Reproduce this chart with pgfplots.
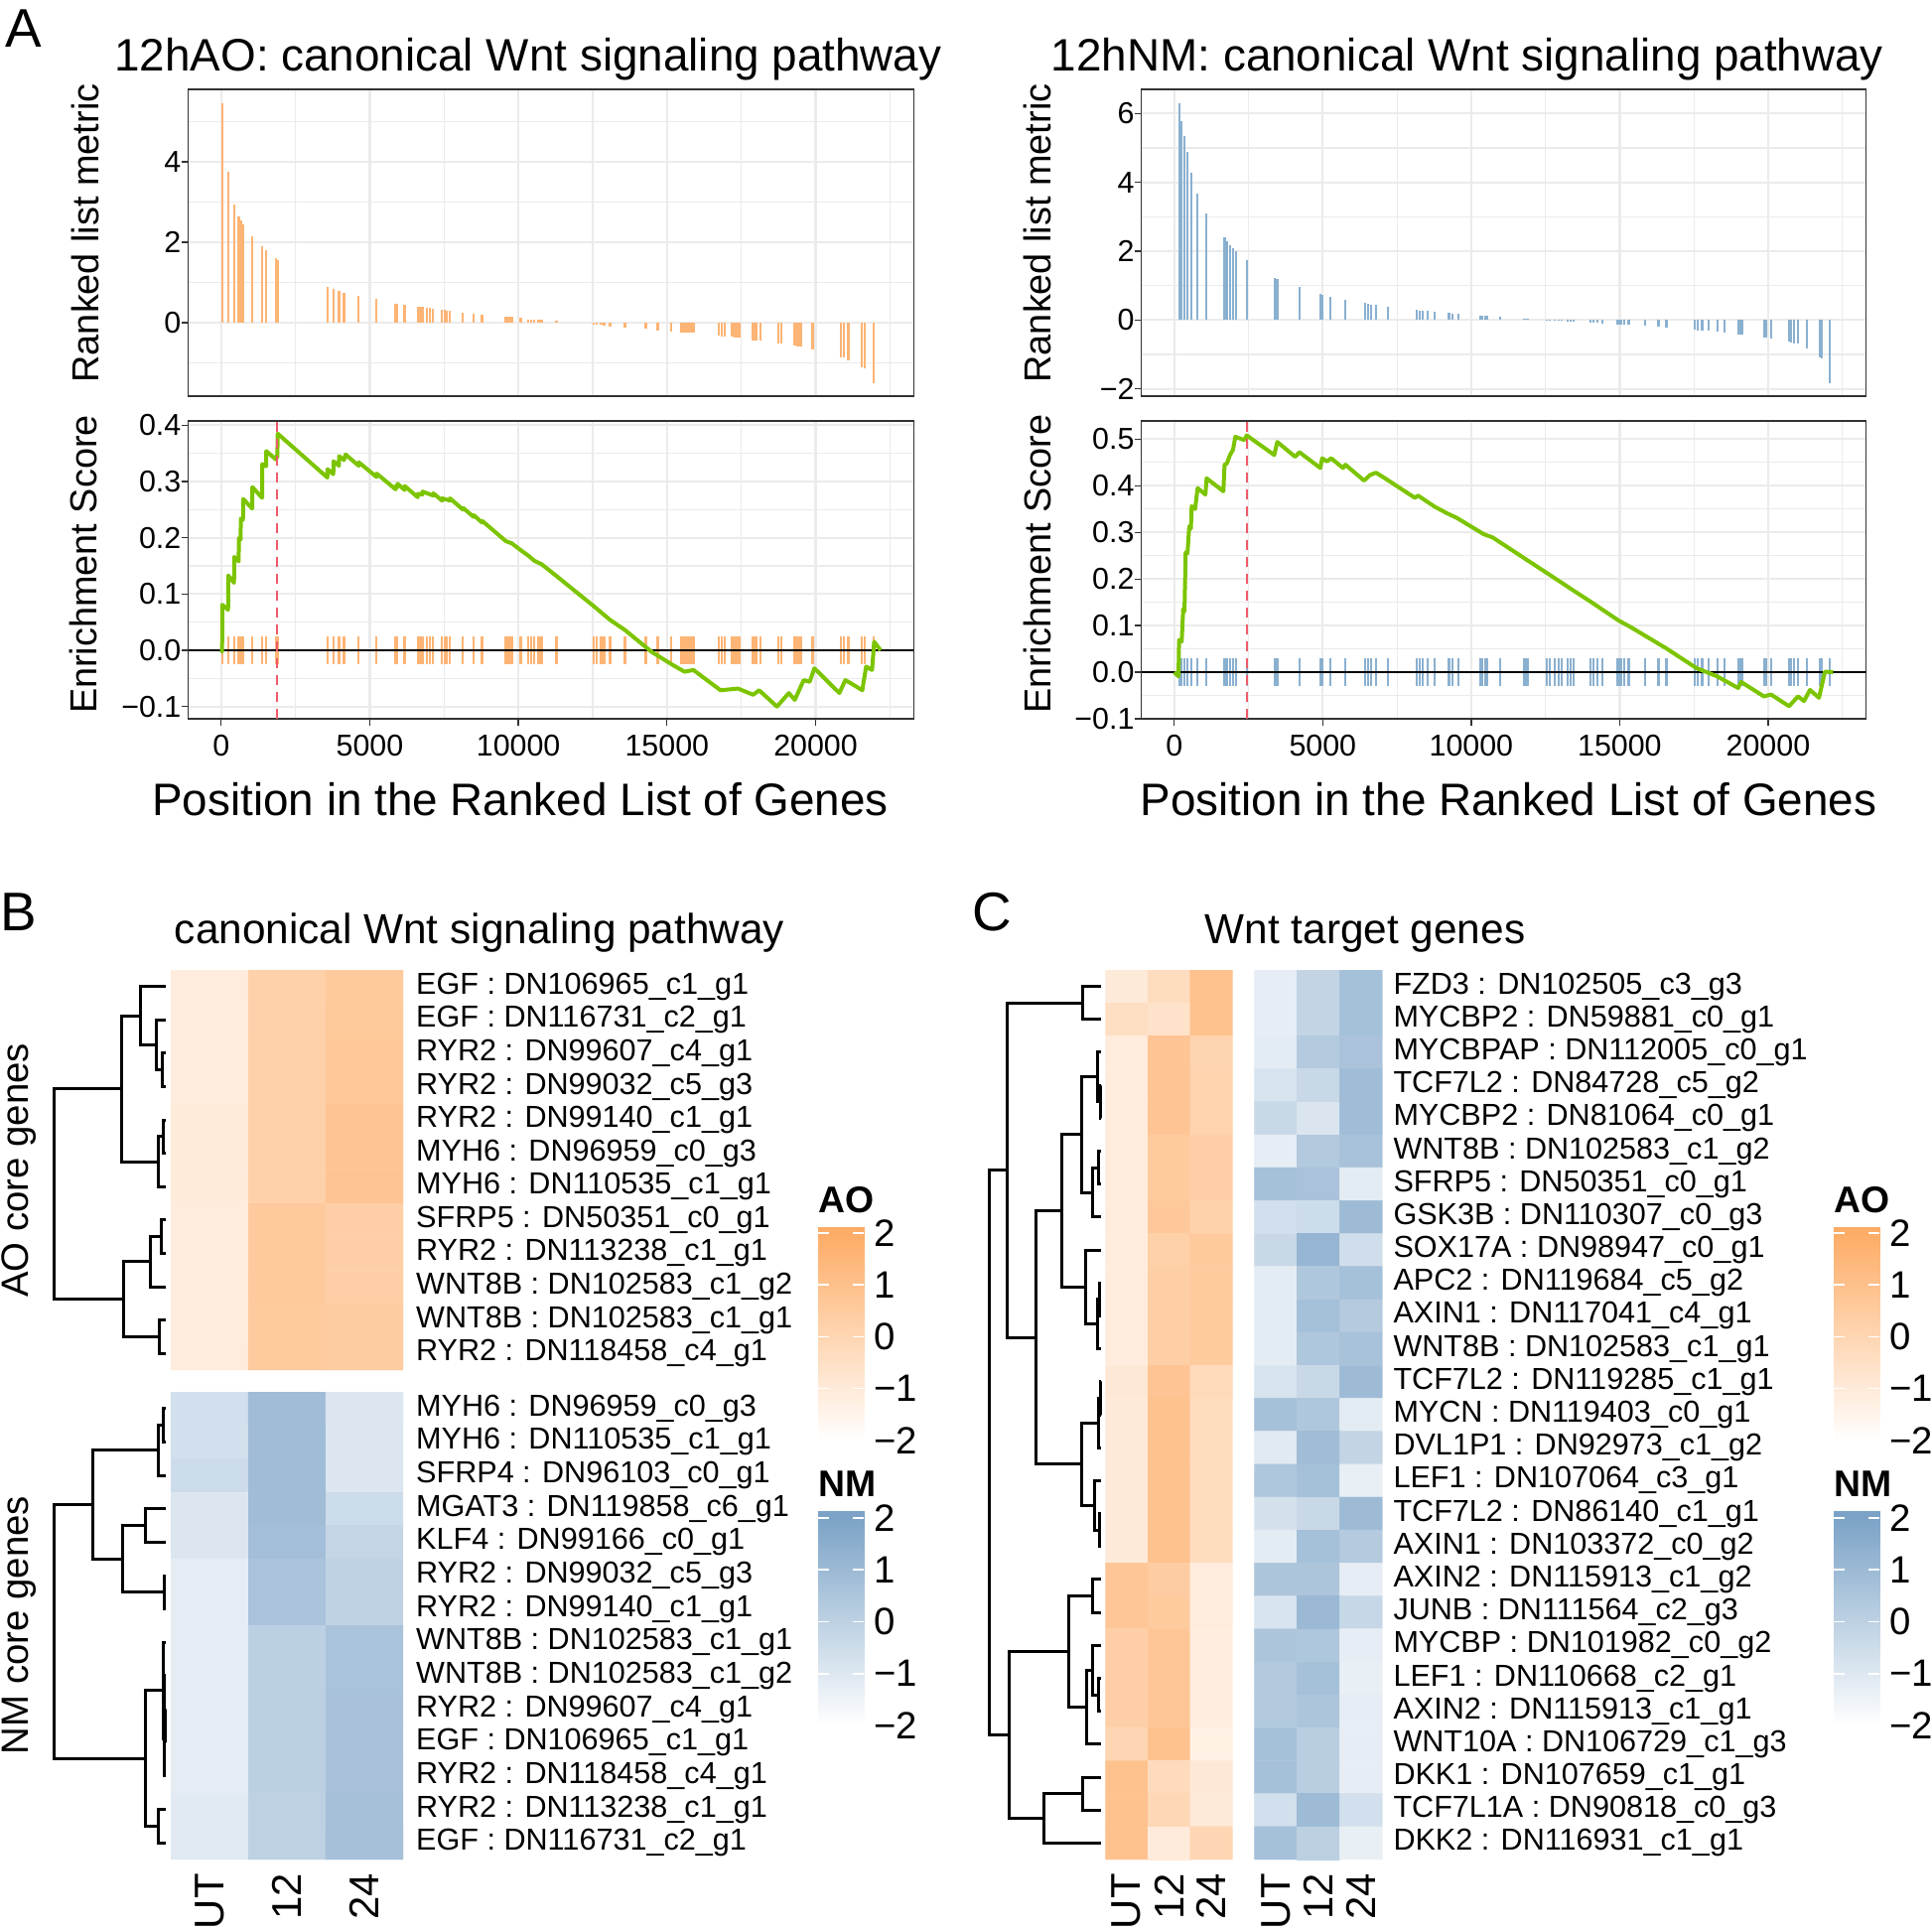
\documentclass[border=0pt]{standalone}
\usepackage{fontspec}
\setmainfont{Liberation Sans}
\usepackage{pgfplots}
\usepackage{pgfplotstable}
\pgfplotsset{compat=1.18}

\definecolor{aobar}{RGB}{253,180,116}
\definecolor{nmbar}{RGB}{138,176,208}
\definecolor{esgreen}{RGB}{124,196,0}
\definecolor{dashred}{RGB}{238,90,105}
\definecolor{gridc}{RGB}{235,235,235}
\definecolor{framec}{RGB}{51,51,51}

\newcommand{\fA}{\fontsize{46}{50}\selectfont}
\newcommand{\fL}{\fontsize{38}{42}\selectfont}
\newcommand{\fT}{\fontsize{30.5}{34}\selectfont}
\newcommand{\fH}{\fontsize{42.5}{46}\selectfont}
\newcommand{\fR}{\fontsize{30.7}{34}\selectfont}
\newcommand{\fC}{\fontsize{42}{46}\selectfont}
\newcommand{\fP}{\fontsize{55}{60}\selectfont}
\newcommand{\fG}{\fontsize{38.5}{42}\selectfont}
\newcommand{\fK}{\fontsize{37.5}{42}\selectfont\bfseries}
\newcommand{\fKt}{\fontsize{38.5}{42}\selectfont}

\tikzset{txt/.style={inner sep=0pt}}
\pgfplotsset{
  colormap={aomap}{rgb255(0cm)=(255,255,255); rgb255(1cm)=(253,172,102)},
  colormap={nmmap}{rgb255(0cm)=(255,255,255); rgb255(1cm)=(124,163,199)},
  gsea/.style={scale only axis, anchor=north west, xmin=-1110, xmax=23300,
    axis line style={framec, line width=1.3bp},
    grid=both, major grid style={gridc, line width=2.2bp}, minor grid style={gridc, line width=1.1bp},
    xtick={0,5000,10000,15000,20000}, minor xtick={2500,7500,12500,17500,22500},
    tick align=outside, tick pos=left, major tick length=7bp, minor tick length=0pt,
    tick style={framec, line width=1.3bp},
    tick label style={font=\fT, inner sep=0pt}, xticklabel shift=9bp,
    scaled ticks=false},
  hm/.style={scale only axis, anchor=north west, xmin=-0.5, xmax=2.5, y dir=reverse,
    axis line style={draw=none}, tick style={draw=none}, major tick length=0pt,
    xtick=\empty, ytick=\empty, yticklabel pos=right,
    yticklabel style={font=\fR, anchor=west, inner sep=0pt}, yticklabel shift=13bp,
    xticklabel style={font=\fC, rotate=90, anchor=east, inner sep=0pt}, xticklabel shift=14bp,
    point meta min=-2, point meta max=2},
  dg/.style={scale only axis, anchor=north west, hide axis, x dir=reverse, y dir=reverse, xmin=0, clip=false},
  dend/.style={black, line width=3bp, forget plot},
  lg/.style={scale only axis, anchor=north west, width=46bp, xmin=0, xmax=1, ymin=-2,
    axis line style={draw=none}, tick style={draw=none}, major tick length=0pt,
    xtick=\empty, ytick={-2,-1,0,1,2}, yticklabels={−2,−1,0,1,2}, yticklabel pos=right,
    yticklabel style={font=\fKt, anchor=west, inner sep=0pt}, yticklabel shift=10bp,
    point meta min=-2, point meta max=2}
}

% ---------------- data: panel A, 12hAO ----------------
\pgfplotstableread{
x m
33 5.46
234 3.74
434 2.93
591 2.63
658 2.53
735 2.43
1046 2.15
1380 1.89
1513 1.79
1847 1.59
1904 1.55
3574 0.88
3774 0.83
3964 0.79
4131 0.74
4629 0.66
5230 0.58
5872 0.47
5932 0.46
6172 0.45
6613 0.40
6693 0.39
6774 0.39
6934 0.37
7014 0.36
7134 0.35
7435 0.32
7515 0.31
7575 0.30
7695 0.30
8136 0.24
8497 0.22
8778 0.19
9579 0.14
9679 0.14
9780 0.14
10080 0.11
10341 0.08
10421 0.08
10541 0.07
10681 0.07
10782 0.07
11283 0.04
12545 -0.05
12645 -0.05
12786 -0.06
12886 -0.07
13086 -0.10
13587 -0.12
14289 -0.16
14689 -0.19
15150 -0.22
15491 -0.25
15591 -0.25
15691 -0.25
15792 -0.26
15892 -0.26
16753 -0.33
16854 -0.34
16954 -0.35
17194 -0.36
17295 -0.37
17395 -0.37
17455 -0.37
17896 -0.44
17996 -0.45
18156 -0.45
18757 -0.52
18858 -0.53
19299 -0.58
19399 -0.59
19499 -0.60
19900 -0.66
20842 -0.86
20942 -0.87
21102 -0.93
21543 -1.11
21643 -1.15
21944 -1.50
}\hitsL

\pgfplotstableread{
x es
0 0.000
33 -0.002
38 0.081
234 0.072
240 0.133
434 0.120
440 0.166
591 0.158
597 0.199
658 0.197
662 0.234
735 0.232
740 0.269
1046 0.252
1050 0.290
1380 0.271
1385 0.331
1513 0.327
1518 0.354
1847 0.339
1852 0.345
1890 0.343
1904 0.385
3574 0.307
3579 0.322
3774 0.313
3779 0.336
3964 0.328
3969 0.345
4131 0.338
4186 0.348
4629 0.328
4634 0.334
5230 0.308
5235 0.314
5872 0.286
5877 0.292
5932 0.290
5937 0.296
6172 0.285
6177 0.292
6613 0.272
6618 0.278
6774 0.277
6779 0.282
7134 0.275
7139 0.279
7435 0.266
7440 0.270
7695 0.266
7700 0.270
8136 0.250
8141 0.253
8497 0.237
8502 0.240
8778 0.227
8783 0.230
9579 0.194
9780 0.190
10080 0.178
10341 0.168
10541 0.159
10782 0.153
11283 0.132
12545 0.078
13086 0.054
13587 0.036
14489 -0.003
15190 -0.026
15590 -0.038
15890 -0.035
16800 -0.071
17390 -0.068
17900 -0.079
18100 -0.071
18700 -0.100
19100 -0.076
19300 -0.088
19600 -0.053
19800 -0.056
19960 -0.032
20800 -0.076
21000 -0.053
21200 -0.059
21570 -0.071
21700 -0.029
21900 -0.035
21970 0.015
22190 0.000
}\esL

% ---------------- data: panel A, 12hNM ----------------
\pgfplotstableread{
x m
161 6.29
242 5.78
343 5.34
444 4.89
585 4.27
786 3.67
1089 3.11
1693 2.39
1774 2.30
1875 2.17
1976 2.09
2076 2.01
2439 1.75
3387 1.22
3468 1.19
4213 0.95
4919 0.76
5000 0.74
5262 0.68
5766 0.59
6431 0.49
6532 0.47
6633 0.45
6794 0.44
7197 0.38
8165 0.29
8266 0.28
8366 0.27
8528 0.26
8770 0.24
9253 0.20
9374 0.19
9576 0.17
10302 0.12
10382 0.12
10463 0.12
10544 0.12
10987 0.09
11794 0.03
11894 0.03
12540 -0.01
12640 -0.01
12802 -0.02
12943 -0.03
13044 -0.03
13245 -0.05
13346 -0.05
13447 -0.05
14011 -0.08
14112 -0.08
14253 -0.09
14414 -0.10
14918 -0.14
14999 -0.14
15060 -0.14
15160 -0.14
15301 -0.14
15866 -0.17
16309 -0.20
16572 -0.22
17519 -0.29
17620 -0.30
17781 -0.32
17983 -0.32
18285 -0.35
18527 -0.37
18991 -0.41
19051 -0.41
19092 -0.41
19132 -0.41
19858 -0.51
19938 -0.52
20100 -0.53
20705 -0.63
20765 -0.64
20866 -0.68
21007 -0.68
21310 -0.82
21753 -1.09
21813 -1.12
22075 -1.83
}\hitsR

\pgfplotstableread{
x es
0 0.000
141 -0.009
161 0.069
250 0.066
300 0.136
343 0.130
383 0.257
444 0.255
504 0.313
560 0.308
585 0.356
700 0.350
786 0.395
1048 0.381
1089 0.416
1653 0.388
1693 0.445
1774 0.448
1875 0.466
1976 0.477
2056 0.505
2359 0.498
2439 0.508
3367 0.466
3468 0.494
4072 0.462
4213 0.472
4919 0.438
4980 0.459
5141 0.452
5282 0.459
5685 0.438
5766 0.445
6391 0.411
6592 0.423
6794 0.428
7096 0.416
8104 0.374
8205 0.379
8770 0.355
9213 0.340
9516 0.331
10423 0.296
10725 0.289
11894 0.240
12640 0.209
13447 0.175
14052 0.150
14959 0.111
15362 0.097
16572 0.051
17580 0.009
18285 -0.009
18991 -0.034
19092 -0.021
19858 -0.052
20100 -0.048
20705 -0.073
21007 -0.052
21209 -0.062
21410 -0.038
21713 -0.055
21914 0.001
22190 0.000
}\esR

% ---------------- data: heatmaps (column c: 0=UT, 1=12, 2=24; row r) ----------------
\pgfplotstableread{
c r v
0 1 -1.10
1 1 0.20
2 1 0.55
0 2 -1.10
1 2 0.20
2 2 0.60
0 3 -1.10
1 3 0.22
2 3 0.65
0 4 -1.10
1 4 0.22
2 4 0.65
0 5 -1.05
1 5 0.20
2 5 0.80
0 6 -1.05
1 6 0.20
2 6 0.80
0 7 -1.05
1 7 0.20
2 7 0.80
0 8 -1.10
1 8 0.58
2 8 0.28
0 9 -1.10
1 9 0.58
2 9 0.28
0 10 -1.10
1 10 0.55
2 10 0.30
0 11 -1.10
1 11 0.50
2 11 0.45
0 12 -1.10
1 12 0.50
2 12 0.45
}\bAO

\pgfplotstableread{
c r v
0 1 -0.64
1 1 0.88
2 1 -0.94
0 2 -0.64
1 2 0.88
2 2 -0.94
0 3 -0.48
1 3 0.88
2 3 -0.94
0 4 -0.94
1 4 0.88
2 4 -0.48
0 5 -0.94
1 5 0.80
2 5 -0.20
0 6 -1.20
1 6 0.58
2 6 -0.05
0 7 -1.20
1 7 0.58
2 7 -0.05
0 8 -1.20
1 8 0.05
2 8 0.60
0 9 -1.20
1 9 0.05
2 9 0.60
0 10 -1.20
1 10 0.05
2 10 0.62
0 11 -1.20
1 11 0.05
2 11 0.62
0 12 -1.20
1 12 0.05
2 12 0.62
0 13 -1.10
1 13 0.00
2 13 0.70
0 14 -1.10
1 14 0.00
2 14 0.70
}\bNM

\pgfplotstableread{
c r v
0 1 -0.98
1 1 -0.34
2 1 0.93
0 2 -0.47
1 2 -0.60
2 2 0.93
0 3 -1.10
1 3 0.80
2 3 0.04
0 4 -1.10
1 4 0.80
2 4 0.11
0 5 -1.10
1 5 0.80
2 5 0.11
0 6 -1.10
1 6 0.50
2 6 0.29
0 7 -1.10
1 7 0.50
2 7 0.29
0 8 -1.10
1 8 0.62
2 8 0.17
0 9 -1.10
1 9 0.22
2 9 0.55
0 10 -1.10
1 10 0.34
2 10 0.50
0 11 -1.10
1 11 0.34
2 11 0.50
0 12 -1.10
1 12 0.34
2 12 0.50
0 13 -0.90
1 13 0.80
2 13 -0.22
0 14 -0.98
1 14 0.93
2 14 -0.34
0 15 -0.98
1 15 0.93
2 15 -0.34
0 16 -0.98
1 16 0.93
2 16 -0.34
0 17 -0.98
1 17 0.93
2 17 -0.34
0 18 -0.98
1 18 0.93
2 18 -0.34
0 19 0.73
1 19 0.42
2 19 -1.10
0 20 0.73
1 20 0.50
2 20 -1.10
0 21 0.29
1 21 0.73
2 21 -1.16
0 22 0.29
1 22 0.73
2 22 -1.16
0 23 0.29
1 23 0.73
2 23 -1.16
0 24 -0.04
1 24 0.93
2 24 -1.31
0 25 0.93
1 25 -0.29
2 25 -0.90
0 26 0.93
1 26 -0.09
2 26 -0.98
0 27 0.93
1 27 -1.06
2 27 -0.04
}\cAO

\pgfplotstableread{
c r v
0 1 -1.24
1 1 -0.18
2 1 0.73
0 2 -1.24
1 2 -0.18
2 2 0.73
0 3 -1.18
1 3 0.27
2 3 0.58
0 4 -0.79
1 4 -0.33
2 4 0.88
0 5 -0.33
1 5 -0.88
2 5 0.88
0 6 -1.24
1 6 0.33
2 6 0.64
0 7 0.73
1 7 0.58
2 7 -1.18
0 8 -0.64
1 8 -0.48
2 8 0.94
0 9 -0.33
1 9 1.18
2 9 -0.58
0 10 -1.18
1 10 0.42
2 10 0.73
0 11 -1.18
1 11 0.73
2 11 0.27
0 12 -1.18
1 12 0.42
2 12 0.64
0 13 -0.79
1 13 -0.33
2 13 0.94
0 14 0.73
1 14 0.42
2 14 -1.18
0 15 -1.09
1 15 0.88
2 15 -0.18
0 16 0.42
1 16 0.73
2 16 -1.30
0 17 -0.70
1 17 -0.33
2 17 0.94
0 18 -1.18
1 18 0.73
2 18 0.27
0 19 0.52
1 19 0.52
2 19 -1.24
0 20 -0.79
1 20 1.03
2 20 -0.27
0 21 0.52
1 21 0.42
2 21 -1.24
0 22 0.33
1 22 0.73
2 22 -1.30
0 23 0.33
1 23 0.52
2 23 -1.24
0 24 0.73
1 24 0.12
2 24 -1.24
0 25 0.73
1 25 0.12
2 25 -1.24
0 26 -0.64
1 26 0.94
2 26 -0.64
0 27 0.73
1 27 0.03
2 27 -1.30
}\cNM

\pgfplotstableread{
x y c
0 -2 -2
1 -2 -2
0 2 2
1 2 2
0 2.2 2
1 2.2 2
}\legscale

\begin{document}
\begin{tikzpicture}
\path[use as bounding box] (0,0) rectangle (1946bp,-1943bp);

% ===================== Panel A left =====================
\begin{axis}[gsea, at={(189.5bp,-90bp)}, width=730.8bp, height=309bp,
  ymin=-1.83, ymax=5.80, ytick={0,2,4}, yticklabels={0,2,4}, minor ytick={-1,1,3,5},
  xticklabels={}, xtick style={draw=none}]
\addplot[ycomb, aobar, line width=2.2bp] table[x=x,y=m]{\hitsL};
\end{axis}

\begin{axis}[gsea, at={(189.5bp,-424bp)}, width=730.8bp, height=300bp,
  ymin=-0.1217, ymax=0.4076, ytick={-0.1,0,0.1,0.2,0.3,0.4},
  yticklabels={−0.1,0.0,0.1,0.2,0.3,0.4}, minor ytick={-0.05,0.05,0.15,0.25,0.35},
  xticklabels={0,5000,10000,15000,20000}]
\addplot[ycomb, aobar, line width=2.2bp] table[x=x, y expr=0.0247]{\hitsL};
\addplot[ycomb, aobar, line width=2.2bp] table[x=x, y expr=-0.0247]{\hitsL};
\addplot[black, line width=2.5bp] coordinates {(-1110,0) (23300,0)};
\addplot[esgreen, line width=4bp, line join=round] table[x=x,y=es]{\esL};
\addplot[dashred, line width=2bp, dash pattern=on 10bp off 7bp] coordinates {(1890,-0.1217) (1890,0.4076)};
\end{axis}

% ===================== Panel A right =====================
\begin{axis}[gsea, at={(1149.6bp,-90bp)}, width=730bp, height=309bp,
  ymin=-2.21, ymax=6.70, ytick={-2,0,2,4,6}, yticklabels={−2,0,2,4,6}, minor ytick={-1,1,3,5},
  xticklabels={}, xtick style={draw=none}]
\addplot[ycomb, nmbar, line width=2.2bp] table[x=x,y=m]{\hitsR};
\end{axis}

\begin{axis}[gsea, at={(1149.6bp,-424bp)}, width=730bp, height=300bp,
  ymin=-0.1, ymax=0.539, ytick={-0.1,0,0.1,0.2,0.3,0.4,0.5},
  yticklabels={−0.1,0.0,0.1,0.2,0.3,0.4,0.5}, minor ytick={-0.05,0.05,0.15,0.25,0.35,0.45},
  xticklabels={0,5000,10000,15000,20000}]
\addplot[ycomb, nmbar, line width=2.2bp] table[x=x, y expr=0.029]{\hitsR};
\addplot[ycomb, nmbar, line width=2.2bp] table[x=x, y expr=-0.029]{\hitsR};
\addplot[black, line width=2.5bp] coordinates {(-1110,0) (23300,0)};
\addplot[esgreen, line width=4bp, line join=round] table[x=x,y=es]{\esR};
\addplot[dashred, line width=2bp, dash pattern=on 10bp off 7bp] coordinates {(2460,-0.1) (2460,0.539)};
\end{axis}

% ===================== Panel B =====================
\begin{axis}[hm, at={(172bp,-977bp)}, width=234bp, height=403bp, ymin=0.5, ymax=12.5,
  colormap name=aomap, ytick={1,...,12},
  yticklabels={EGF : DN106965\_c1\_g1, EGF : DN116731\_c2\_g1, RYR2 : DN99607\_c4\_g1, RYR2 : DN99032\_c5\_g3, RYR2 : DN99140\_c1\_g1, MYH6 : DN96959\_c0\_g3, MYH6 : DN110535\_c1\_g1, SFRP5 : DN50351\_c0\_g1, RYR2 : DN113238\_c1\_g1, WNT8B : DN102583\_c1\_g2, WNT8B : DN102583\_c1\_g1, RYR2 : DN118458\_c4\_g1}]
\addplot[matrix plot*, mesh/cols=3, point meta=explicit] table[x=c,y=r,meta=v]{\bAO};
\end{axis}

\begin{axis}[hm, at={(172bp,-1402bp)}, width=234bp, height=471bp, ymin=0.5, ymax=14.5,
  colormap name=nmmap, ytick={1,...,14}, xtick={0,1,2}, xticklabels={UT,12,24},
  yticklabels={MYH6 : DN96959\_c0\_g3, MYH6 : DN110535\_c1\_g1, SFRP4 : DN96103\_c0\_g1, MGAT3 : DN119858\_c6\_g1, KLF4 : DN99166\_c0\_g1, RYR2 : DN99032\_c5\_g3, RYR2 : DN99140\_c1\_g1, WNT8B : DN102583\_c1\_g1, WNT8B : DN102583\_c1\_g2, RYR2 : DN99607\_c4\_g1, EGF : DN106965\_c1\_g1, RYR2 : DN118458\_c4\_g1, RYR2 : DN113238\_c1\_g1, EGF : DN116731\_c2\_g1}]
\addplot[matrix plot*, mesh/cols=3, point meta=explicit] table[x=c,y=r,meta=v]{\bNM};
\end{axis}

% dendrogram B AO (x = merge height, y = row)
\begin{axis}[dg, at={(55bp,-977bp)}, width=112bp, height=403bp, xmax=112, ymin=0.5, ymax=12.5]
\addplot[dend] coordinates {(0,3)(4,3)(4,4)(0,4)};
\addplot[dend] coordinates {(0,2)(10,2)(10,3.5)(4,3.5)};
\addplot[dend] coordinates {(0,1)(26,1)(26,2.75)(10,2.75)};
\addplot[dend] coordinates {(0,5)(3,5)(3,6)(0,6)};
\addplot[dend] coordinates {(3,5.5)(8,5.5)(8,7)(0,7)};
\addplot[dend] coordinates {(26,1.875)(45,1.875)(45,6.25)(8,6.25)};
\addplot[dend] coordinates {(0,8)(5,8)(5,9)(0,9)};
\addplot[dend] coordinates {(5,8.5)(16,8.5)(16,10)(0,10)};
\addplot[dend] coordinates {(0,11)(7,11)(7,12)(0,12)};
\addplot[dend] coordinates {(16,9.25)(43,9.25)(43,11.5)(7,11.5)};
\addplot[dend] coordinates {(45,4.0625)(112,4.0625)(112,10.375)(43,10.375)};
\end{axis}

% dendrogram B NM
\begin{axis}[dg, at={(55bp,-1402bp)}, width=112bp, height=471bp, xmax=112, ymin=0.5, ymax=14.5]
\addplot[dend] coordinates {(0,1)(2.5,1)(2.5,2)(0,2)};
\addplot[dend] coordinates {(2.5,1.5)(8,1.5)(8,3)(0,3)};
\addplot[dend] coordinates {(0,4)(20.5,4)(20.5,5)(0,5)};
\addplot[dend] coordinates {(0,6)(1.5,6)(1.5,7)(0,7)};
\addplot[dend] coordinates {(20.5,4.5)(44,4.5)(44,6.5)(1.5,6.5)};
\addplot[dend] coordinates {(8,2.25)(73,2.25)(73,5.5)(44,5.5)};
\addplot[dend] coordinates {(0,10)(0.6,10)(0.6,11)(0,11)};
\addplot[dend] coordinates {(0,9)(1.2,9)(1.2,10.5)(0.6,10.5)};
\addplot[dend] coordinates {(1.2,9.75)(1.8,9.75)(1.8,12)(0,12)};
\addplot[dend] coordinates {(0,8)(2.6,8)(2.6,10.875)(1.8,10.875)};
\addplot[dend] coordinates {(0,13)(8,13)(8,14)(0,14)};
\addplot[dend] coordinates {(2.6,9.4375)(20.5,9.4375)(20.5,13.5)(8,13.5)};
\addplot[dend] coordinates {(73,3.875)(112,3.875)(112,11.46875)(20.5,11.46875)};
\end{axis}

% legends B
\begin{axis}[lg, at={(824bp,-1236bp)}, height=214.6bp, ymax=2.115, colormap name=aomap]
\addplot[surf, shader=interp, mesh/cols=2, point meta=explicit] table[x=x,y=y,meta=c]{\legscale};
\addplot[only marks, mark=-, mark size=5.4bp, white, mark options={line width=1.6bp}] coordinates {(0.117,2)(0.883,2)(0.117,1)(0.883,1)(0.117,0)(0.883,0)(0.117,-1)(0.883,-1)};
\end{axis}
\begin{axis}[lg, at={(824bp,-1522bp)}, height=216bp, ymax=2.134, colormap name=nmmap]
\addplot[surf, shader=interp, mesh/cols=2, point meta=explicit] table[x=x,y=y,meta=c]{\legscale};
\addplot[only marks, mark=-, mark size=5.4bp, white, mark options={line width=1.6bp}] coordinates {(0.117,2)(0.883,2)(0.117,1)(0.883,1)(0.117,0)(0.883,0)(0.117,-1)(0.883,-1)};
\end{axis}

% ===================== Panel C =====================
\begin{axis}[hm, at={(1113.3bp,-977bp)}, width=128.4bp, height=896bp, ymin=0.5, ymax=27.5,
  colormap name=aomap, xtick={0,1,2}, xticklabels={UT,12,24}]
\addplot[matrix plot*, mesh/cols=3, point meta=explicit] table[x=c,y=r,meta=v]{\cAO};
\end{axis}

\begin{axis}[hm, at={(1263.3bp,-977bp)}, width=129bp, height=896bp, ymin=0.5, ymax=27.5,
  colormap name=nmmap, xtick={0,1,2}, xticklabels={UT,12,24}, yticklabel shift=11bp,
  ytick={1,...,27},
  yticklabels={FZD3 : DN102505\_c3\_g3, MYCBP2 : DN59881\_c0\_g1, MYCBPAP : DN112005\_c0\_g1, TCF7L2 : DN84728\_c5\_g2, MYCBP2 : DN81064\_c0\_g1, WNT8B : DN102583\_c1\_g2, SFRP5 : DN50351\_c0\_g1, GSK3B : DN110307\_c0\_g3, SOX17A : DN98947\_c0\_g1, APC2 : DN119684\_c5\_g2, AXIN1 : DN117041\_c4\_g1, WNT8B : DN102583\_c1\_g1, TCF7L2 : DN119285\_c1\_g1, MYCN : DN119403\_c0\_g1, DVL1P1 : DN92973\_c1\_g2, LEF1 : DN107064\_c3\_g1, TCF7L2 : DN86140\_c1\_g1, AXIN1 : DN103372\_c0\_g2, AXIN2 : DN115913\_c1\_g2, JUNB : DN111564\_c2\_g3, MYCBP : DN101982\_c0\_g2, LEF1 : DN110668\_c2\_g1, AXIN2 : DN115913\_c1\_g1, WNT10A : DN106729\_c1\_g3, DKK1 : DN107659\_c1\_g1, TCF7L1A : DN90818\_c0\_g3, DKK2 : DN116931\_c1\_g1}]
\addplot[matrix plot*, mesh/cols=3, point meta=explicit] table[x=c,y=r,meta=v]{\cNM};
\end{axis}

% dendrogram C
\begin{axis}[dg, at={(996.7bp,-977bp)}, width=112.3bp, height=896bp, xmax=112.3, ymin=0.5, ymax=27.5]
\addplot[dend] coordinates {(0,1)(18.3,1)(18.3,2)(0,2)};
\addplot[dend] coordinates {(0,4)(0.8,4)(0.8,5)(0,5)};
\addplot[dend] coordinates {(0,3)(4,3)(4,4.5)(0.8,4.5)};
\addplot[dend] coordinates {(0,6)(3,6)(3,7)(0,7)};
\addplot[dend] coordinates {(3,6.5)(9,6.5)(9,8)(0,8)};
\addplot[dend] coordinates {(4,3.75)(20,3.75)(20,7.25)(9,7.25)};
\addplot[dend] coordinates {(0,10)(1.5,10)(1.5,11)(0,11)};
\addplot[dend] coordinates {(1.5,10.5)(4,10.5)(4,12)(0,12)};
\addplot[dend] coordinates {(0,9)(15.7,9)(15.7,11.25)(4,11.25)};
\addplot[dend] coordinates {(20,5.5)(40,5.5)(40,10.125)(15.7,10.125)};
\addplot[dend] coordinates {(0,13)(1,13)(1,14)(0,14)};
\addplot[dend] coordinates {(1,13.5)(2.5,13.5)(2.5,15)(0,15)};
\addplot[dend] coordinates {(0,17)(1.5,17)(1.5,18)(0,18)};
\addplot[dend] coordinates {(0,16)(7,16)(7,17.5)(1.5,17.5)};
\addplot[dend] coordinates {(2.5,14.25)(20,14.25)(20,16.75)(7,16.75)};
\addplot[dend] coordinates {(40,7.8125)(65.7,7.8125)(65.7,15.5)(20,15.5)};
\addplot[dend] coordinates {(18.3,1.5)(94.7,1.5)(94.7,11.65625)(65.7,11.65625)};
\addplot[dend] coordinates {(0,19)(9,19)(9,20)(0,20)};
\addplot[dend] coordinates {(0,22)(3,22)(3,23)(0,23)};
\addplot[dend] coordinates {(0,21)(9,21)(9,22.5)(3,22.5)};
\addplot[dend] coordinates {(9,21.75)(14.7,21.75)(14.7,24)(0,24)};
\addplot[dend] coordinates {(9,19.5)(33,19.5)(33,22.875)(14.7,22.875)};
\addplot[dend] coordinates {(0,25)(18.3,25)(18.3,26)(0,26)};
\addplot[dend] coordinates {(18.3,25.5)(58,25.5)(58,27)(0,27)};
\addplot[dend] coordinates {(33,21.1875)(92.3,21.1875)(92.3,26.25)(58,26.25)};
\addplot[dend] coordinates {(94.7,6.578125)(112.3,6.578125)(112.3,23.71875)(92.3,23.71875)};
\end{axis}

% legends C
\begin{axis}[lg, at={(1847bp,-1236bp)}, height=214.6bp, ymax=2.115, colormap name=aomap]
\addplot[surf, shader=interp, mesh/cols=2, point meta=explicit] table[x=x,y=y,meta=c]{\legscale};
\addplot[only marks, mark=-, mark size=5.4bp, white, mark options={line width=1.6bp}] coordinates {(0.117,2)(0.883,2)(0.117,1)(0.883,1)(0.117,0)(0.883,0)(0.117,-1)(0.883,-1)};
\end{axis}
\begin{axis}[lg, at={(1847bp,-1522bp)}, height=216bp, ymax=2.134, colormap name=nmmap]
\addplot[surf, shader=interp, mesh/cols=2, point meta=explicit] table[x=x,y=y,meta=c]{\legscale};
\addplot[only marks, mark=-, mark size=5.4bp, white, mark options={line width=1.6bp}] coordinates {(0.117,2)(0.883,2)(0.117,1)(0.883,1)(0.117,0)(0.883,0)(0.117,-1)(0.883,-1)};
\end{axis}

% ===================== Text =====================
\node[txt, font=\fP, anchor=base west] at (5bp,-47bp) {A};
\node[txt, font=\fA, anchor=base] at (532bp,-71bp) {12hAO: canonical Wnt signaling pathway};
\node[txt, font=\fA, anchor=base] at (1478bp,-71bp) {12hNM: canonical Wnt signaling pathway};
\node[txt, font=\fL, rotate=90] at (85.5bp,-235bp) {Ranked list metric};
\node[txt, font=\fL, rotate=90] at (84bp,-568.5bp) {Enrichment Score};
\node[txt, font=\fL, rotate=90] at (1045bp,-235bp) {Ranked list metric};
\node[txt, font=\fL, rotate=90] at (1045bp,-568bp) {Enrichment Score};
\node[txt, font=\fA, anchor=base] at (524bp,-821bp) {Position in the Ranked List of Genes};
\node[txt, font=\fA, anchor=base] at (1519.5bp,-821bp) {Position in the Ranked List of Genes};
\node[txt, font=\fP, anchor=base west] at (0bp,-937bp) {B};
\node[txt, font=\fP, anchor=base west] at (979bp,-937bp) {C};
\node[txt, font=\fH, anchor=base] at (483bp,-950bp) {canonical Wnt signaling pathway};
\node[txt, font=\fH, anchor=base] at (1375bp,-950bp) {Wnt target genes};
\node[txt, font=\fG, rotate=90] at (19bp,-1179bp) {AO core genes};
\node[txt, font=\fG, rotate=90] at (19bp,-1637bp) {NM core genes};
\node[txt, font=\fK, anchor=base west] at (824bp,-1221bp) {AO};
\node[txt, font=\fK, anchor=base west] at (824bp,-1507bp) {NM};
\node[txt, font=\fK, anchor=base west] at (1847bp,-1221bp) {AO};
\node[txt, font=\fK, anchor=base west] at (1847bp,-1507bp) {NM};
\end{tikzpicture}
\end{document}
